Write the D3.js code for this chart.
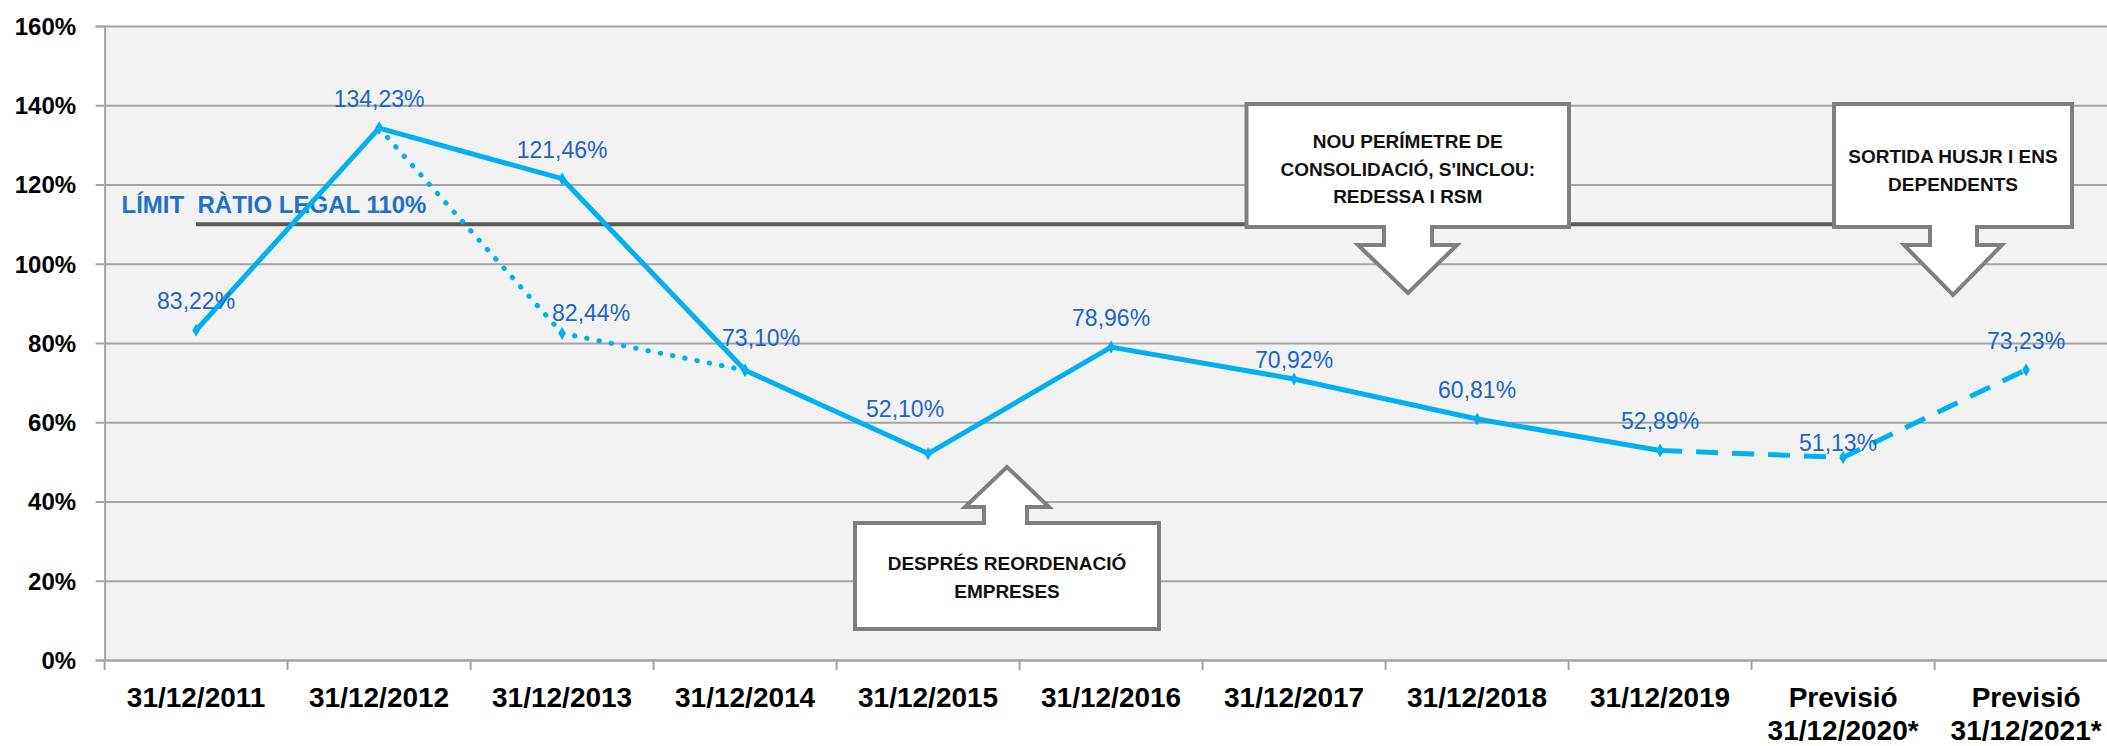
<!DOCTYPE html>
<html>
<head>
<meta charset="utf-8">
<script src="https://cdn.jsdelivr.net/npm/d3@7"></script>
<style>
  body { margin: 0; background: #fff; }
  svg { display: block; font-family: "Liberation Sans", Arial, sans-serif; }
</style>
</head>
<body>
<div id="chart"></div>
<script>
// --- data ---
var categories = ["31/12/2011", "31/12/2012", "31/12/2013", "31/12/2014", "31/12/2015",
  "31/12/2016", "31/12/2017", "31/12/2018", "31/12/2019",
  "Previsió\n31/12/2020*", "Previsió\n31/12/2021*"];
var ratioReal = [83.22, 134.23, 121.46, 73.10, 52.10, 78.96, 70.92, 60.81, 52.88, null, null];
var ratioRestated = [null, 134.23, 82.44, 73.10, null, null, null, null, null, null, null];
var ratioForecast = [null, null, null, null, null, null, null, null, 52.89, 51.13, 73.23];
var legalLimit = 110;
var yTicks = [0, 20, 40, 60, 80, 100, 120, 140, 160];

(function() {
  var width = 2107, height = 746;
  var plotL = 104.6, plotR = 2117.6, plotT = 26, plotB = 660;
  var blue = "#00b0f0", labelBlue = "#1c64c8", grid = "#a3a3a3";

  var svg = d3.select("#chart").append("svg")
    .attr("width", width).attr("height", height);

  var x = d3.scaleBand().domain(categories).range([plotL, plotR]);
  var y = d3.scaleLinear().domain([0, 160]).range([plotB, plotT]);
  var cx = function(i) { return x(categories[i]) + x.bandwidth() / 2; };

  // plot background
  svg.append("rect")
    .attr("x", plotL).attr("y", plotT)
    .attr("width", plotR - plotL).attr("height", plotB - plotT)
    .attr("fill", "#f2f2f2");

  // gridlines
  svg.append("g")
    .attr("transform", "translate(" + plotL + ",0)")
    .call(d3.axisLeft(y).tickValues(yTicks).tickSize(-(plotR - plotL)).tickFormat(""))
    .call(function(g) { g.select(".domain").remove(); })
    .selectAll("line").attr("stroke", grid).attr("stroke-width", 2);

  // y axis
  var yAxis = svg.append("g")
    .attr("transform", "translate(" + plotL + ",0)")
    .call(d3.axisLeft(y).tickValues(yTicks).tickSize(9).tickPadding(19.5)
      .tickFormat(function(d) { return d + "%"; }));
  yAxis.select(".domain").attr("stroke", grid).attr("stroke-width", 2);
  yAxis.selectAll("line").attr("stroke", grid).attr("stroke-width", 2);
  yAxis.selectAll("text")
    .attr("dy", "0.35em")
    .attr("fill", "#000")
    .style("font-size", "24px").style("font-weight", "bold");

  // x axis
  var xAxis = svg.append("g")
    .attr("transform", "translate(0," + plotB + ")")
    .call(d3.axisBottom(x).tickSize(0).tickPadding(46.5));
  xAxis.select(".domain").attr("stroke", grid).attr("stroke-width", 2);
  xAxis.selectAll("text")
    .attr("dy", null)
    .attr("fill", "#000")
    .style("font-size", "28px").style("font-weight", "bold")
    .each(function(d) {
      var t = d3.select(this), lines = d.split("\n");
      t.text(null);
      lines.forEach(function(s, k) {
        t.append("tspan").attr("x", 0).attr("dy", k ? 33.5 : 0).text(s);
      });
    });
  // category boundary ticks
  svg.append("g").selectAll("line")
    .data(categories)
    .join("line")
    .attr("x1", function(d) { return x(d); }).attr("x2", function(d) { return x(d); })
    .attr("y1", plotB).attr("y2", plotB + 10)
    .attr("stroke", grid).attr("stroke-width", 2);

  // legal limit line
  svg.append("line")
    .attr("x1", cx(0)).attr("x2", cx(categories.length - 1))
    .attr("y1", y(legalLimit)).attr("y2", y(legalLimit))
    .attr("stroke", "#595959").attr("stroke-width", 4);
  svg.append("text")
    .attr("x", 121.5).attr("y", y(legalLimit) - 11)
    .attr("fill", "#2170c8")
    .style("font-size", "24px").style("font-weight", "bold")
    .attr("xml:space", "preserve")
    .text("LÍMIT  RÀTIO LEGAL " + legalLimit + "%");

  // series
  var line = d3.line()
    .defined(function(d) { return d != null; })
    .x(function(d, i) { return cx(i); })
    .y(function(d) { return y(d); });

  svg.append("path").datum(ratioRestated)
    .attr("d", line).attr("fill", "none")
    .attr("stroke", blue).attr("stroke-width", 5)
    .attr("stroke-linecap", "round").attr("stroke-dasharray", "0.5 12");
  svg.append("path").datum(ratioForecast)
    .attr("d", line).attr("fill", "none")
    .attr("stroke", blue).attr("stroke-width", 5)
    .attr("stroke-dasharray", "22 14");
  svg.append("path").datum(ratioReal)
    .attr("d", line).attr("fill", "none")
    .attr("stroke", blue).attr("stroke-width", 5)
    .attr("stroke-linejoin", "round");

  // markers
  var pts = [];
  [ratioReal, ratioRestated, ratioForecast].forEach(function(s) {
    s.forEach(function(v, i) { if (v != null) pts.push({ i: i, v: v }); });
  });
  svg.append("g").selectAll("path")
    .data(pts)
    .join("path")
    .attr("transform", function(d) { return "translate(" + cx(d.i) + "," + y(d.v) + ")"; })
    .attr("d", d3.symbol(d3.symbolDiamond, 50))
    .attr("fill", blue);

  // data labels (one per point, nudged only where the picture moves them)
  var labels = [];
  ratioReal.forEach(function(v, i) { if (v != null && i !== 8) labels.push({ i: i, v: v }); });
  labels.push({ i: 2, v: ratioRestated[2], dx: 29, dy: 9 });
  ratioForecast.forEach(function(v, i) { if (v != null) labels.push({ i: i, v: v }); });
  var nudge = { 3: [16, -3], 4: [-23, -16], 6: [0, 10], 9: [-5, 15] };
  labels.forEach(function(d) {
    if (d.dx == null) {
      var n = nudge[d.i] || [0, 0];
      d.dx = n[0]; d.dy = n[1];
    }
  });
  var fmt = function(v) { return v.toFixed(2).replace(".", ",") + "%"; };
  svg.append("g").selectAll("text")
    .data(labels)
    .join("text")
    .attr("x", function(d) { return cx(d.i) + d.dx; })
    .attr("y", function(d) { return y(d.v) - 29 + d.dy + 8; })
    .attr("text-anchor", "middle")
    .attr("fill", labelBlue)
    .style("font-size", "23px")
    .text(function(d) { return fmt(d.v); });

  // callouts
  function downCallout(b) {
    return "M" + b.l + "," + b.t + "H" + b.r + "V" + b.b + "H" + b.sr + "V" + b.sb +
      "H" + b.hr + "L" + b.tx + "," + b.ty + "L" + b.hl + "," + b.sb + "H" + b.sl +
      "V" + b.b + "H" + b.l + "Z";
  }
  function upCallout(b) {
    return "M" + b.l + "," + b.b + "H" + b.r + "V" + b.t + "H" + b.sr + "V" + b.sb +
      "H" + b.hr + "L" + b.tx + "," + b.ty + "L" + b.hl + "," + b.sb + "H" + b.sl +
      "V" + b.t + "H" + b.l + "Z";
  }
  var callouts = [
    { shape: downCallout, l: 1246.5, t: 104, r: 1569, b: 227, sl: 1384, sr: 1432, sb: 245,
      hl: 1358, hr: 1457, tx: 1408, ty: 293,
      lines: ["NOU PERÍMETRE DE", "CONSOLIDACIÓ, S'INCLOU:", "REDESSA I RSM"], y0: 148 },
    { shape: downCallout, l: 1834, t: 104, r: 2072, b: 227, sl: 1930, sr: 1977, sb: 245,
      hl: 1904, hr: 2002, tx: 1953, ty: 295,
      lines: ["SORTIDA HUSJR I ENS", "DEPENDENTS"], y0: 163 },
    { shape: upCallout, l: 855, t: 523, r: 1159, b: 629, sl: 984, sr: 1027, sb: 507,
      hl: 965, hr: 1049, tx: 1007, ty: 467,
      lines: ["DESPRÉS REORDENACIÓ", "EMPRESES"], y0: 570 }
  ];
  var cg = svg.append("g").selectAll("g").data(callouts).join("g");
  cg.append("path")
    .attr("d", function(d) { return d.shape(d); })
    .attr("fill", "#fff").attr("stroke", "#7f7f7f").attr("stroke-width", 4);
  cg.each(function(d) {
    var g = d3.select(this);
    d.lines.forEach(function(s, k) {
      g.append("text")
        .attr("x", (d.l + d.r) / 2).attr("y", d.y0 + k * 27.5)
        .attr("text-anchor", "middle")
        .attr("fill", "#111")
        .style("font-size", "19px").style("font-weight", "bold")
        .text(s);
    });
  });
})();
</script>
</body>
</html>
